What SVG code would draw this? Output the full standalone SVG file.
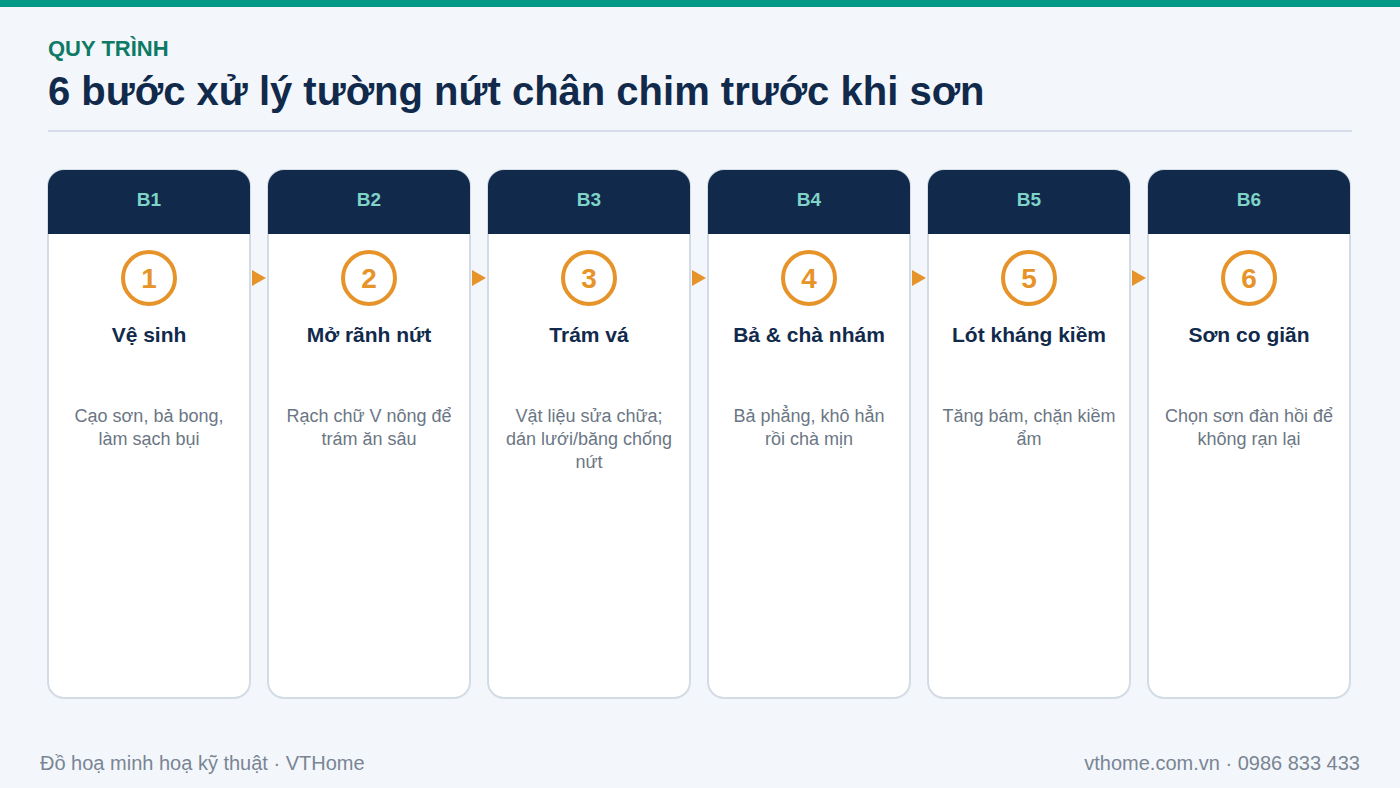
<svg xmlns="http://www.w3.org/2000/svg" width="1400" height="788" viewBox="0 0 1400 788">
<style>
text{font-family:"Liberation Sans",Arial,sans-serif}
.card{fill:#ffffff;stroke:#d3dbe4;stroke-width:2}
.hdr{fill:#112a4b}
.hl{fill:#7fd3c8;font-size:19px;font-weight:bold;text-anchor:middle}
.ring{fill:none;stroke:#e6942a;stroke-width:4}
.num{fill:#e6942a;font-size:28px;font-weight:bold;text-anchor:middle}
.ttl{fill:#112a4b;font-size:21px;font-weight:bold;text-anchor:middle}
.desc{fill:#6b7684;font-size:18px;text-anchor:middle}
.arr{fill:#e6942a}
.foot{fill:#7a8594;font-size:20px}
</style>
<rect x="0" y="0" width="1400" height="788" fill="#f3f7fb"/>
<rect x="0" y="0" width="1400" height="7" fill="#009886"/>
<text x="48" y="56" fill="#0e7a66" font-size="22" font-weight="bold">QUY TRÌNH</text>
<text x="48" y="105" fill="#112a4b" font-size="40" font-weight="bold">6 bước xử lý tường nứt chân chim trước khi sơn</text>
<rect x="48" y="130" width="1304" height="2" fill="#d6dce9"/>

<g id="connectors">
<polygon class="arr" points="252,270 266,278 252,286"/>
<polygon class="arr" points="472,270 486,278 472,286"/>
<polygon class="arr" points="692,270 706,278 692,286"/>
<polygon class="arr" points="912,270 926,278 912,286"/>
<polygon class="arr" points="1132,270 1146,278 1132,286"/>
</g>

<g id="step1" transform="translate(48,170)">
<rect class="card" x="0" y="0" width="202" height="528" rx="16"/>
<path class="hdr" d="M0,64 V16 A16,16 0 0 1 16,0 H186 A16,16 0 0 1 202,16 V64 Z"/>
<text class="hl" x="101" y="36">B1</text>
<circle class="ring" cx="101" cy="108" r="26"/>
<text class="num" x="101" y="118">1</text>
<text class="ttl" x="101" y="172">Vệ sinh</text>
<text class="desc" x="101" y="252">Cạo sơn, bả bong,</text>
<text class="desc" x="101" y="275">làm sạch bụi</text>
</g>
<g id="step2" transform="translate(268,170)">
<rect class="card" x="0" y="0" width="202" height="528" rx="16"/>
<path class="hdr" d="M0,64 V16 A16,16 0 0 1 16,0 H186 A16,16 0 0 1 202,16 V64 Z"/>
<text class="hl" x="101" y="36">B2</text>
<circle class="ring" cx="101" cy="108" r="26"/>
<text class="num" x="101" y="118">2</text>
<text class="ttl" x="101" y="172">Mở rãnh nứt</text>
<text class="desc" x="101" y="252">Rạch chữ V nông để</text>
<text class="desc" x="101" y="275">trám ăn sâu</text>
</g>
<g id="step3" transform="translate(488,170)">
<rect class="card" x="0" y="0" width="202" height="528" rx="16"/>
<path class="hdr" d="M0,64 V16 A16,16 0 0 1 16,0 H186 A16,16 0 0 1 202,16 V64 Z"/>
<text class="hl" x="101" y="36">B3</text>
<circle class="ring" cx="101" cy="108" r="26"/>
<text class="num" x="101" y="118">3</text>
<text class="ttl" x="101" y="172">Trám vá</text>
<text class="desc" x="101" y="252">Vật liệu sửa chữa;</text>
<text class="desc" x="101" y="275">dán lưới/băng chống</text>
<text class="desc" x="101" y="298">nứt</text>
</g>
<g id="step4" transform="translate(708,170)">
<rect class="card" x="0" y="0" width="202" height="528" rx="16"/>
<path class="hdr" d="M0,64 V16 A16,16 0 0 1 16,0 H186 A16,16 0 0 1 202,16 V64 Z"/>
<text class="hl" x="101" y="36">B4</text>
<circle class="ring" cx="101" cy="108" r="26"/>
<text class="num" x="101" y="118">4</text>
<text class="ttl" x="101" y="172">Bả &amp; chà nhám</text>
<text class="desc" x="101" y="252">Bả phẳng, khô hẳn</text>
<text class="desc" x="101" y="275">rồi chà mịn</text>
</g>
<g id="step5" transform="translate(928,170)">
<rect class="card" x="0" y="0" width="202" height="528" rx="16"/>
<path class="hdr" d="M0,64 V16 A16,16 0 0 1 16,0 H186 A16,16 0 0 1 202,16 V64 Z"/>
<text class="hl" x="101" y="36">B5</text>
<circle class="ring" cx="101" cy="108" r="26"/>
<text class="num" x="101" y="118">5</text>
<text class="ttl" x="101" y="172">Lót kháng kiềm</text>
<text class="desc" x="101" y="252">Tăng bám, chặn kiềm</text>
<text class="desc" x="101" y="275">ẩm</text>
</g>
<g id="step6" transform="translate(1148,170)">
<rect class="card" x="0" y="0" width="202" height="528" rx="16"/>
<path class="hdr" d="M0,64 V16 A16,16 0 0 1 16,0 H186 A16,16 0 0 1 202,16 V64 Z"/>
<text class="hl" x="101" y="36">B6</text>
<circle class="ring" cx="101" cy="108" r="26"/>
<text class="num" x="101" y="118">6</text>
<text class="ttl" x="101" y="172">Sơn co giãn</text>
<text class="desc" x="101" y="252">Chọn sơn đàn hồi để</text>
<text class="desc" x="101" y="275">không rạn lại</text>
</g>

<text class="foot" x="40" y="770">Đồ hoạ minh hoạ kỹ thuật · VTHome</text>
<text class="foot" x="1360" y="770" text-anchor="end">vthome.com.vn · 0986 833 433</text>
</svg>
